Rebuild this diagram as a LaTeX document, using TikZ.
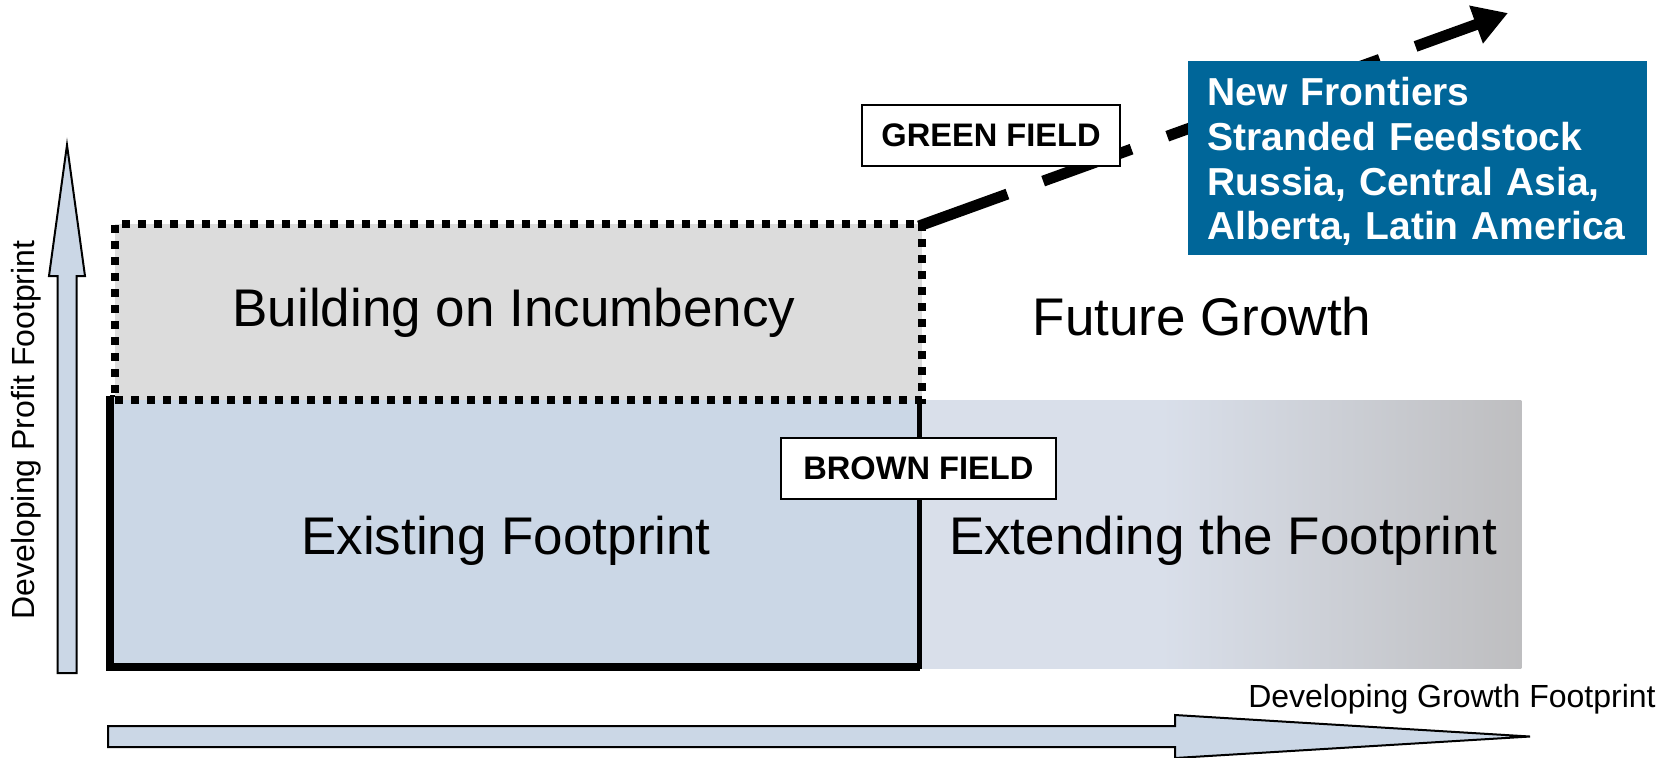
\documentclass[tikz,border=0pt]{standalone}
\usepackage{fontspec}
\setmainfont{Liberation Sans}
\usetikzlibrary{arrows.meta}
\definecolor{axisfill}{HTML}{CBD7E6}
\definecolor{incfill}{HTML}{DCDCDC}
\definecolor{extL}{HTML}{D9DFEA}
\definecolor{extR}{HTML}{BEBEC0}
\definecolor{frontier}{HTML}{006699}
\pgfdeclarehorizontalshading{extshade}{100bp}{color(0bp)=(extL); color(25bp)=(extL); color(45bp)=(extL); color(75bp)=(extR); color(100bp)=(extR)}
\tikzset{
  bigtext/.style={font=\fontsize{26.5}{30}\selectfont, inner sep=0pt},
  axistext/.style={font=\fontsize{16}{19}\selectfont, inner sep=0pt},
  fieldlabel/.style={draw=black, line width=1pt, fill=white, inner sep=0pt,
    font=\bfseries\fontsize{16.3}{19}\selectfont, minimum height=30.5pt},
  bigarrow/.style={draw=black, line width=1pt, fill=axisfill, line join=miter},
  frontbox/.style={fill=frontier, inner sep=0pt},
  fronttext/.style={text=white, inner sep=0pt, align=left, text width=210.5pt,
    font=\bfseries\fontsize{19.5}{22.4}\selectfont},
  growarrow/.style={line width=5.5pt, dash pattern=on 47pt off 19pt,
    -{Triangle[length=17pt,width=19pt]}},
}
\begin{document}
\begin{tikzpicture}[x=0.5pt,y=-0.5pt]
\useasboundingbox (0,0) rectangle (1668,757);

% axes
\draw[bigarrow] (57.5,673) -- (57.5,276) -- (49,276) -- (67,145) -- (85,276)
  -- (76.5,276) -- (76.5,673) -- cycle;
\draw[bigarrow] (108,726) -- (1175,726) -- (1175,715) -- (1530,736.5)
  -- (1175,758) -- (1175,747) -- (108,747) -- cycle;
\node[axistext, rotate=90] (ylab) at (26.6,430) {Developing Profit Footprint};
\node[axistext, anchor=east] (xlab) at (1656,699) {Developing Growth Footprint};

% extending (gradient)
\node[shading=extshade, inner sep=0pt, minimum width=300pt, minimum height=134pt,
  anchor=north west] (extend) at (921,400) {};
% existing footprint
\node[fill=axisfill, inner sep=0pt, minimum width=404.5pt, minimum height=135pt,
  anchor=north west] (exist) at (110,396) {};
\draw[line width=4pt, line join=miter] (exist.north west) -- (exist.south west)
  -- (exist.south east);
\draw[line width=2.5pt] ([yshift=-1pt]exist.south east) -- (exist.north east);
\draw[line width=0.6pt] (exist.north west) -- (exist.north east);
% building on incumbency
\node[fill=incfill, draw=black, line width=4pt, dash pattern=on 4pt off 4pt,
  inner sep=0pt, minimum width=403.5pt, minimum height=88.25pt,
  anchor=north west] (incumb) at (111,219.5) {};

% texts
\node[bigtext] (tinc) at (514,313) {Building on Incumbency};
\node[bigtext] (texist) at (506,541) {Existing Footprint};
\node[bigtext] (text) at (1223,541) {Extending the Footprint};
\node[bigtext] (tfut) at (1202,317) {Future Growth};

% growth arrow
\coordinate (gstart) at (919,226);
\coordinate (gtip) at (1508,13);
\draw[growarrow] (gstart) -- (gtip);

% labels
\node[fieldlabel, minimum width=137.7pt] (brown) at (918.4,468.5) {BROWN FIELD};
\node[fieldlabel, minimum width=129pt] (green) at (991,135.5) {GREEN FIELD};
\node[frontbox, anchor=north west, minimum width=229.5pt, minimum height=97pt]
  (front) at (1188,61) {};
\node[fronttext, anchor=west] (fronttxt) at ([xshift=9.5pt,yshift=-1.6pt]front.west)
  {New Frontiers\\Stranded Feedstock\\Russia, Central Asia,\\Alberta, Latin America};
\end{tikzpicture}
\end{document}
